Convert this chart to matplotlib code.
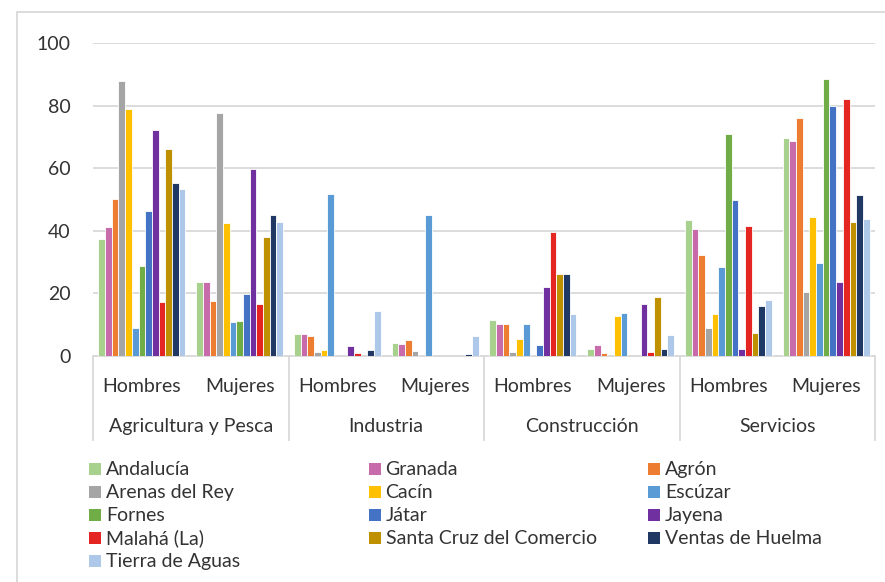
import numpy as np
import matplotlib.pyplot as plt
from matplotlib.patches import Rectangle
from matplotlib.transforms import blended_transform_factory

plt.rcParams['font.family'] = ['Lato', 'DejaVu Sans']

# ---------------------------------------------  data  --------------------------------------------- #

municipios = ["Andalucía", "Granada", "Agrón", "Arenas del Rey", "Cacín", "Escúzar",
              "Fornes", "Játar", "Jayena", "Malahá (La)", "Santa Cruz del Comercio",
              "Ventas de Huelma", "Tierra de Aguas"]
colores = ["#A9D18E", "#C76BAB", "#ED7D31", "#A5A5A5", "#FFC000", "#5B9BD5",
           "#70AD47", "#4472C4", "#7030A0", "#E52521", "#BF9000", "#203864", "#ADC8E8"]

sectores = ["Agricultura y Pesca", "Industria", "Construcción", "Servicios"]
sexos = ["Hombres", "Mujeres"]

agri_h = [37.3, 41.3, 50.2, 88.0, 78.8, 8.9, 28.8, 46.3, 72.2, 17.3, 66.0, 55.4, 53.4]
agri_m = [23.5, 23.5, 17.5, 77.7, 42.6, 10.9, 11.1, 19.8, 59.6, 16.5, 37.9, 45.1, 42.8]
ind_h = [6.9, 7.0, 6.3, 1.2, 1.8, 51.9, 0.0, 0.0, 3.1, 0.9, 0.0, 1.9, 14.5]
ind_m = [4.1, 3.7, 5.1, 1.5, 0.0, 45.0, 0.0, 0.0, 0.0, 0.0, 0.0, 0.7, 6.3]
cons_h = [11.6, 10.2, 10.3, 1.2, 5.3, 10.2, 0.0, 3.4, 21.9, 39.6, 26.2, 26.2, 13.5]
cons_m = [2.1, 3.5, 0.9, 0.0, 12.7, 13.8, 0.0, 0.0, 16.5, 1.2, 18.8, 2.3, 6.6]
serv_h = [43.3, 40.7, 32.3, 9.1, 13.4, 28.4, 71.0, 49.9, 2.2, 41.6, 7.4, 15.9, 17.9]
serv_m = [69.7, 68.7, 76.1, 20.6, 44.4, 29.7, 88.6, 80.0, 23.6, 82.0, 42.8, 51.3, 43.7]

valores = np.array([agri_h, agri_m, ind_h, ind_m, cons_h, cons_m, serv_h, serv_m])

# ---------------------------------------------  plot  --------------------------------------------- #

W, H = 885, 582
fig = plt.figure(figsize=(W / 100, H / 100), dpi=100)
ax = fig.add_axes([93 / W, 1 - 356 / H, 782 / W, 313 / H])

texto = '#333333'
gris = '#d9d9d9'
fs = 14

n = len(municipios)
w = 0.89 / n
x = np.arange(len(valores))
for j in range(n):
    ax.bar(x + (j - (n - 1) / 2) * w, valores[:, j], width=w, color=colores[j],
           edgecolor='white', linewidth=0.6, zorder=3)

ax.set_xlim(-0.5, len(valores) - 0.5)
ax.set_ylim(0, 100)
ax.set_yticks(range(0, 101, 20))
ax.yaxis.grid(True, color=gris, lw=1.3, zorder=0)
for s in ax.spines.values():
    s.set_visible(False)
ax.set_xticks([])
ax.tick_params(axis='y', length=0, pad=16, labelsize=fs, labelcolor=texto)

# category axis (two levels)
tr = blended_transform_factory(ax.transData, ax.transAxes)
ax.plot([-0.5, len(valores) - 0.5], [0, 0], color=gris, lw=1.3, transform=tr, clip_on=False)
for k in range(len(sectores) + 1):
    ax.plot([k * 2 - 0.5] * 2, [0, -84 / 313], color=gris, lw=1.3, transform=tr, clip_on=False)
for i in range(len(valores)):
    ax.text(i, -35.7 / 313, sexos[i % 2], transform=tr, ha='center', va='baseline',
            fontsize=fs, color=texto)
for k, sec in enumerate(sectores):
    ax.text(k * 2 + 0.5, -75.7 / 313, sec, transform=tr, ha='center', va='baseline',
            fontsize=fs, color=texto)

# legend
for i, nombre in enumerate(municipios):
    col, row = i % 3, i // 3
    x0 = 89 + col * 279.5
    yb = 475 + row * 23
    fig.add_artist(Rectangle((x0 / W, 1 - yb / H), 12 / W, 12 / H, transform=fig.transFigure,
                             color=colores[i], lw=0))
    fig.text((x0 + 17) / W, 1 - yb / H, nombre, ha='left', va='baseline',
             fontsize=fs, color=texto)

# chart border
fig.add_artist(Rectangle((17 / W, -0.05), 2, 1 - 12 / H + 0.05, transform=fig.transFigure,
                         fill=False, ec=gris, lw=1.3))

plt.savefig("out.png", dpi=100)
